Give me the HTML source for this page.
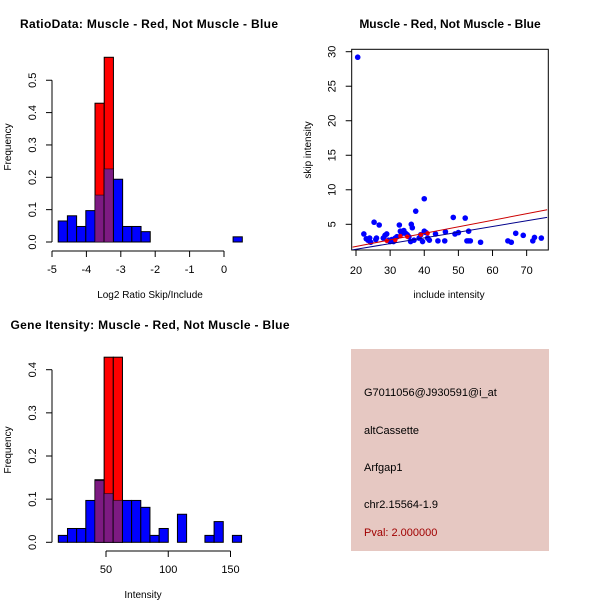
<!DOCTYPE html>
<html><head><meta charset="utf-8"><style>
html,body{margin:0;padding:0;background:#fff;}
svg{display:block;font-family:"Liberation Sans",sans-serif;}
</style></head><body>
<svg id="c" width="600" height="600" viewBox="0 0 600 600" xmlns="http://www.w3.org/2000/svg">
<rect width="600" height="600" fill="#fff"/>
<g id="p1"></g>
<g id="p2"></g>
<g id="p3"></g>
<g>
<rect x="351" y="349" width="198" height="202" fill="#e6c8c2"/>
<text x="364" y="396" font-size="11" fill="#000">G7011056@J930591@i_at</text>
<text x="364" y="434" font-size="11" fill="#000">altCassette</text>
<text x="364" y="471" font-size="11" fill="#000">Arfgap1</text>
<text x="364" y="508" font-size="11" fill="#000">chr2.15564-1.9</text>
<text x="364" y="536" font-size="11" fill="#a00000">Pval: 2.000000</text>
</g>
</svg>
<script>
// Plot 1 data
const ratioBinStart = -4.82, ratioBinWidth = 0.2676;
const ratioBlue = [0.065,0.081,0.048,0.097,0.145,0.226,0.194,0.048,0.048,0.032,0,0,0,0,0,0,0,0,0,0.016];
const ratioRed = [0,0,0,0,0.429,0.571,0,0,0,0,0,0,0,0,0,0,0,0,0,0];
const ratioXTicks = [-5,-4,-3,-2,-1,0];
const ratioYTicks = ["0.0","0.1","0.2","0.3","0.4","0.5"];
// Plot 2 data
const intBinStart = 11.7, intBinWidth = 7.36;
const intBlue = [0.016,0.032,0.032,0.097,0.145,0.113,0.097,0.097,0.097,0.081,0.016,0.032,0,0.065,0,0,0.016,0.048,0,0.016];
const intRed = [0,0,0,0,0.143,0.429,0.429,0,0,0,0,0,0,0,0,0,0,0,0,0];
const intXTicks = [50,100,150];
const intYTicks = ["0.0","0.1","0.2","0.3","0.4"];
// Plot 3 data
const incBlue = [20.5,22.3,23,23.5,24,24.3,25.3,25.8,26,26.8,28,28.5,29,29.5,30,30.5,31,31.5,32,32.7,33,33.3,34,34.5,35,35.5,36,36.2,36.5,37,37.5,38.5,39,39.5,40,40,40.5,41,41.5,43.3,44,46,46.2,48.5,49,50,52,52.5,53,53,53.5,56.5,64.5,65.5,66.8,69,71.8,72.3,74.3];
const skipBlue = [29.2,3.6,2.9,2.7,3,2.4,5.3,2.8,3,4.9,3,3.4,3.6,2.7,2.5,2.8,2.5,3,3.2,4.9,4,3.6,4.1,3.7,3.5,3.2,2.5,5,4.5,2.7,6.9,3,3.5,2.5,8.7,4,3.8,3,2.7,3.6,2.6,2.6,3.9,6,3.6,3.8,5.9,2.6,4,2.6,2.6,2.4,2.6,2.4,3.7,3.4,2.6,3.1,3];
const incRed = [29,31.5,33,35,39,41];
const skipRed = [2.6,2.7,3.3,3.2,3.5,3.7];
const fitBlue = [[19,1.3],[76,6.0]];
const fitRed = [[19,1.7],[76,7.1]];
const scXTicks = [20,30,40,50,60,70];
const scYTicks = [5,10,15,20,25,30];

const NS="http://www.w3.org/2000/svg";
function mk(parent,tag,attrs){const e=document.createElementNS(NS,tag);for(const k in attrs)e.setAttribute(k,attrs[k]);parent.appendChild(e);return e;}
function txt(parent,x,y,s,size,rot,weight){const t=mk(parent,'text',{x:x,y:y,'font-size':size,'text-anchor':'middle'});if(rot)t.setAttribute('transform','rotate(-90 '+x+' '+y+')');if(weight)t.setAttribute('font-weight',weight);t.textContent=s;return t;}

function hist(g,o){
  const X=v=>o.x0px+(v-o.xv0)*o.xs, Y=v=>o.y0px-v*o.ys;
  for(let i=0;i<o.blue.length;i++){
    const a=o.start+i*o.w, b=a+o.w, hb=o.blue[i], hr=o.red[i];
    if(hb>0){const r=mk(g,'rect',{x:X(a),y:Y(hb),width:X(b)-X(a),height:Y(0)-Y(hb),fill:'#0000ff',stroke:'#000','stroke-width':1});
      }
    if(hr>0){const r=mk(g,'rect',{x:X(a),y:Y(hr),width:X(b)-X(a),height:Y(0)-Y(hr),fill:'#ff0000',stroke:'#000','stroke-width':1});
      
      const m=Math.min(hb,hr);if(m>0){const p=mk(g,'rect',{x:X(a),y:Y(m),width:X(b)-X(a),height:Y(0)-Y(m),fill:'#7d1a82',stroke:'#000','stroke-width':1,'stroke-opacity':0.5});
      }}
  }
  const yl=o.yticks.map(Number);
  mk(g,'line',{x1:o.yax,x2:o.yax,y1:Y(yl[yl.length-1]),y2:Y(0),stroke:'#000'});
  o.yticks.forEach(s=>{const y=Y(+s);mk(g,'line',{x1:o.yax-6,x2:o.yax,y1:y,y2:y,stroke:'#000'});const t=txt(g,o.yax-16,y,s,11,true);});
  mk(g,'line',{x1:X(o.xticks[0]),x2:X(o.xticks[o.xticks.length-1]),y1:o.xax,y2:o.xax,stroke:'#000'});
  o.xticks.forEach(v=>{const x=X(v);mk(g,'line',{x1:x,x2:x,y1:o.xax,y2:o.xax+6,stroke:'#000'});const t=txt(g,x,o.xax+22,String(v),11);});
}
const p1=document.getElementById('p1');
hist(p1,{x0px:224,xv0:0,xs:34.4,y0px:242,ys:323.5,start:ratioBinStart,w:ratioBinWidth,blue:ratioBlue,red:ratioRed,yticks:ratioYTicks,xticks:ratioXTicks,yax:52,xax:251});
let t;
t=txt(p1,149,28,'RatioData: Muscle - Red, Not Muscle - Blue',12,false,'bold');t.setAttribute('textLength','258');
t=txt(p1,150,298,'Log2 Ratio Skip/Include',10);
t=txt(p1,11,147,'Frequency',10,true);

const p2=document.getElementById('p2');
hist(p2,{x0px:106,xv0:50,xs:1.245,y0px:542.3,ys:431.5,start:intBinStart,w:intBinWidth,blue:intBlue,red:intRed,yticks:intYTicks,xticks:intXTicks,yax:52,xax:551});
t=txt(p2,150,329,'Gene Itensity: Muscle - Red, Not Muscle - Blue',12,false,'bold');t.setAttribute('textLength','279');
t=txt(p2,143,598,'Intensity',10);
t=txt(p2,11,450,'Frequency',10,true);

const p3=document.getElementById('p3');
const SX=v=>356+(v-20)*3.413, SY=v=>224.3-(v-5)*6.904;
mk(p3,'rect',{x:351.7,y:49.3,width:196.6,height:200.7,fill:'none',stroke:'#000'});
const cp=mk(p3,'clipPath',{id:'sc'});mk(cp,'rect',{x:351.7,y:49.3,width:196.6,height:200.7});
const inner=mk(p3,'g',{'clip-path':'url(#sc)'});
for(let i=0;i<incBlue.length;i++){const c=mk(inner,'circle',{cx:SX(incBlue[i]),cy:SY(skipBlue[i]),r:2.8,fill:'#0000ff'});
  }
for(let i=0;i<incRed.length;i++){const c=mk(inner,'circle',{cx:SX(incRed[i]),cy:SY(skipRed[i]),r:2.2,fill:'#ff0000'});
  }
let l=mk(inner,'line',{x1:SX(fitBlue[0][0]),y1:SY(fitBlue[0][1]),x2:SX(fitBlue[1][0]),y2:SY(fitBlue[1][1]),stroke:'#00008b','stroke-width':1});

l=mk(inner,'line',{x1:SX(fitRed[0][0]),y1:SY(fitRed[0][1]),x2:SX(fitRed[1][0]),y2:SY(fitRed[1][1]),stroke:'#cc0000','stroke-width':1});

scXTicks.forEach(v=>{const x=SX(v);mk(p3,'line',{x1:x,x2:x,y1:250,y2:256,stroke:'#000'});t=txt(p3,x,274,String(v),11);});
scYTicks.forEach(v=>{const y=SY(v);mk(p3,'line',{x1:345.7,x2:351.7,y1:y,y2:y,stroke:'#000'});t=txt(p3,335.5,y,String(v),11,true);});
t=txt(p3,450,28,'Muscle - Red, Not Muscle - Blue',12,false,'bold');
t=txt(p3,449,298,'include intensity',10);
t=txt(p3,311,150,'skip intensity',10,true);
</script>
</body></html>
